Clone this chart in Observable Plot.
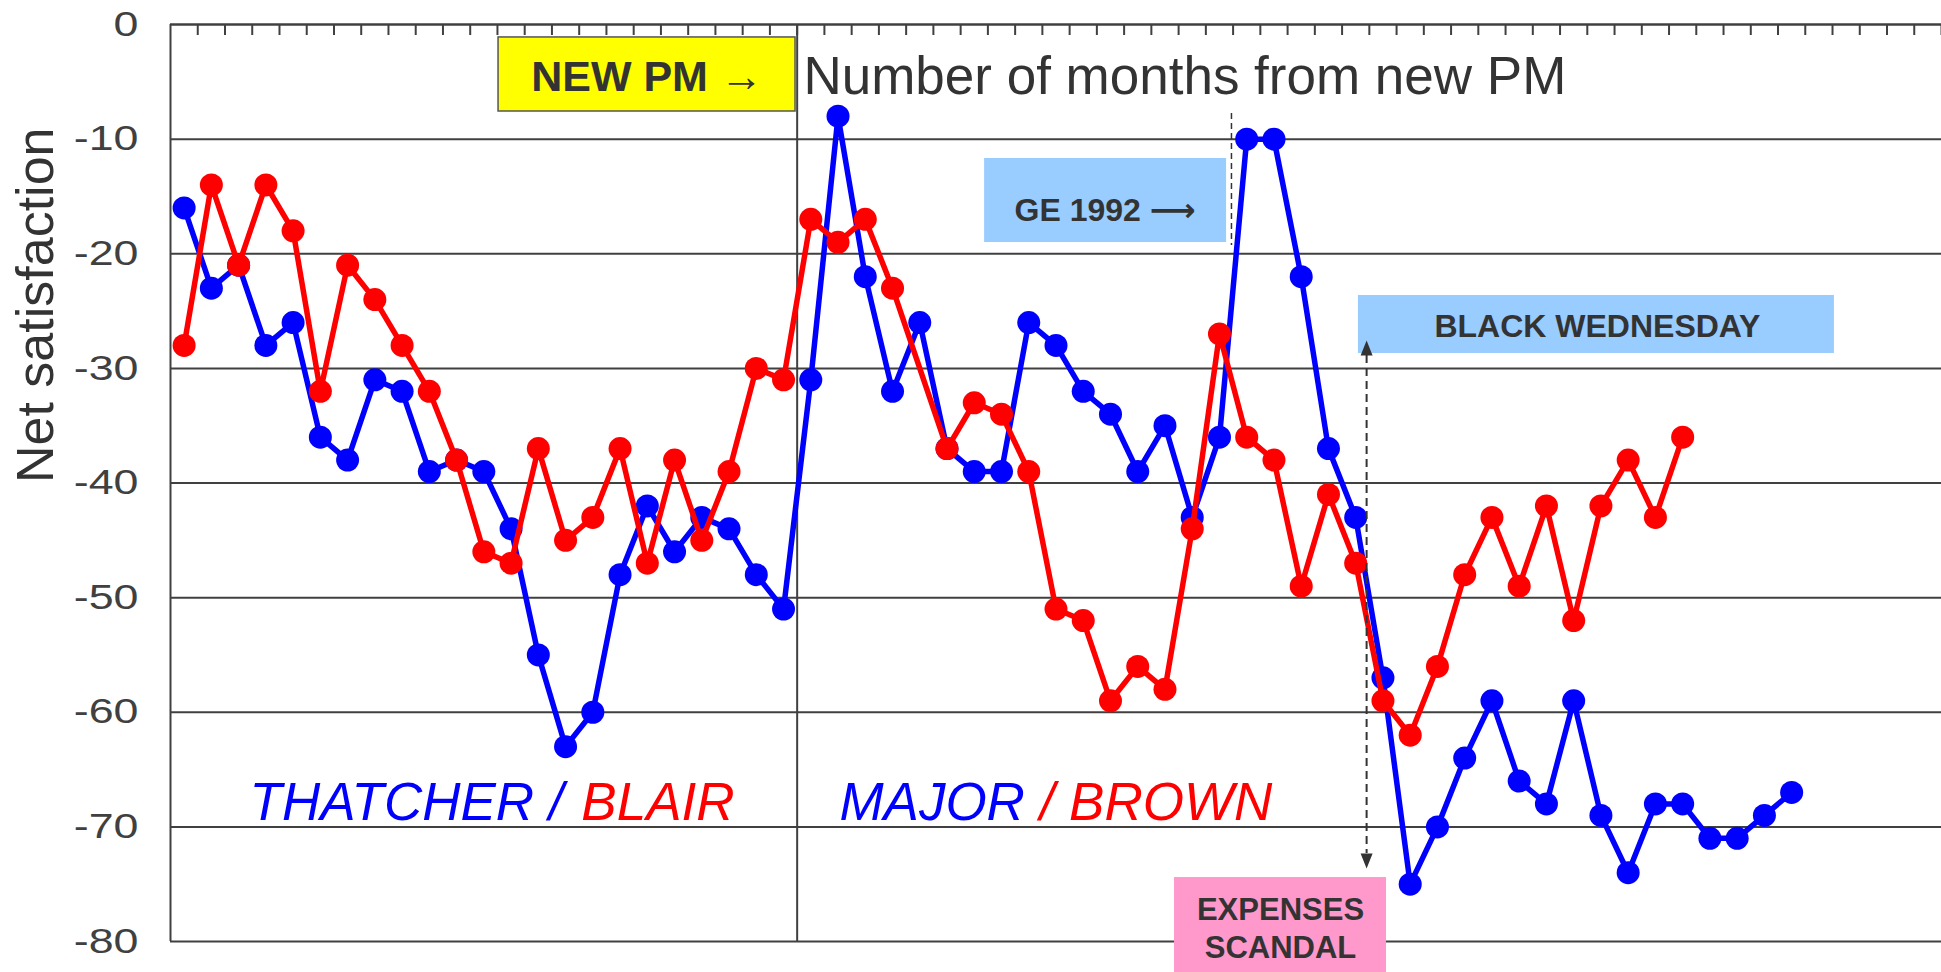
<!DOCTYPE html>
<html><head><meta charset="utf-8">
<script src="https://cdn.jsdelivr.net/npm/d3@7"></script>
<script src="https://cdn.jsdelivr.net/npm/@observablehq/plot@0.6"></script>
<style>html,body{margin:0;padding:0;background:#fff;overflow:hidden;}</style>
</head><body><div id="chart"></div>
<script>
// Category index 0..64 (23 = first month of the new PM)
const categoryCount = 65;
const newPmIndex = 23;

// Blue: Thatcher (0-22) then Major (23-59)
const blueValues = [
  -16, -23, -21, -28, -26, -36, -38, -31, -32, -39, -38, -39, -44, -55, -63, -60, -48, -42, -46, -43, -44, -48, -51,
  -31, -8, -22, -32, -26, -37, -39, -39, -26, -28, -32, -34, -39, -35, -43, -36, -10, -10, -22, -37, -43,
  -57, -75, -70, -64, -59, -66, -68, -59, -69, -74, -68, -68, -71, -71, -69, -67
];
// Red: Blair (0-22) then Brown (23-55); one month missing
const redValues = [
  -28, -14, -21, -14, -18, -32, -21, -24, -28, -32, -38, -46, -47, -37, -45, -43, -37, -47, -38, -45, -39, -30, -31,
  -17, -19, -17, -23, null, -37, -33, -34, -39, -51, -52, -59, -56, -58, -44, -27, -36, -38, -49, -41, -47,
  -59, -62, -56, -48, -43, -49, -42, -52, -42, -38, -43, -36
];
const yTicks = [0, -10, -20, -30, -40, -50, -60, -70, -80];
const gridValues = [-10, -20, -30, -40, -50, -60, -70, -80];
const boundaries = d3.range(1, categoryCount + 1).map(k => k - 0.5);

const blue = blueValues.map((v, i) => ({i, v}));
const red = redValues.map((v, i) => ({i, v})).filter(d => d.v != null);

const SANS = "Liberation Sans, Arial, Helvetica, sans-serif";
const INK = "#333333";
const LINE = "#404040";

const arrowUp = {draw(ctx) { ctx.moveTo(0, -15); ctx.lineTo(6, 0); ctx.lineTo(-6, 0); ctx.closePath(); }};
const arrowDown = {draw(ctx) { ctx.moveTo(0, 15); ctx.lineTo(6, 0); ctx.lineTo(-6, 0); ctx.closePath(); }};

const chart = Plot.plot({
  width: 1941,
  height: 972,
  marginLeft: 170,
  marginRight: 0,
  marginTop: 24,
  marginBottom: 31,
  style: {background: "white", fontFamily: SANS},
  x: {domain: [-0.5, categoryCount - 0.5], axis: null},
  y: {domain: [-80, 0], axis: null},
  marks: [
    Plot.ruleY(gridValues, {stroke: LINE, strokeWidth: 2}),
    Plot.ruleY([0], {stroke: LINE, strokeWidth: 2.5}),
    Plot.ruleX(boundaries, {y1: 0, y2: -0.96, stroke: LINE, strokeWidth: 2}),
    Plot.ruleX([-0.5], {y1: 0, y2: -80, stroke: LINE, strokeWidth: 2}),
    Plot.ruleX([newPmIndex - 0.5], {y1: 0, y2: -80, stroke: LINE, strokeWidth: 2}),
    Plot.axisY(yTicks, {
      tickSize: 0, tickPadding: 32, label: null,
      tickFormat: d => `${d}`,
      fontSize: 35, fontFamily: SANS, fill: LINE
    }),
    Plot.text(["Net satisfaction"], {
      frameAnchor: "left", dx: -134, rotate: -90,
      fontSize: 52, fill: INK, fontFamily: SANS
    }),
    // data
    Plot.line(blue, {x: "i", y: "v", stroke: "#0000ff", strokeWidth: 5.5}),
    Plot.dot(blue, {x: "i", y: "v", r: 11.5, fill: "#0000ff"}),
    Plot.line(red, {x: "i", y: "v", stroke: "#ff0000", strokeWidth: 5.5}),
    Plot.dot(red, {x: "i", y: "v", r: 11.5, fill: "#ff0000"}),
    // title
    Plot.text(["Number of months from new PM"], {
      x: 22.73, y: -4.62, textAnchor: "start", fontSize: 53, fill: INK
    }),
    // NEW PM box
    Plot.rect([0], {x1: 11.54, x2: 22.44, y1: -1.13, y2: -7.59, fill: "#ffff00", stroke: "#555555", strokeWidth: 1.5}),
    Plot.text(["NEW PM \u2192"], {x: 16.99, y: -4.64, fontSize: 43, fontWeight: "bold", fill: INK}),
    // GE 1992
    Plot.rect([0], {x1: 29.38, x2: 38.26, y1: -11.69, y2: -19.02, fill: "#99ccff"}),
    Plot.text(["GE 1992 \u27F6"], {x: 33.8, y: -16.21, fontSize: 32, fontWeight: "bold", fill: INK, fontFamily: "Liberation Sans, DejaVu Sans, sans-serif"}),
    Plot.ruleX([38.44], {y1: -7.76, y2: -19.28, stroke: INK, strokeWidth: 1.5, strokeDasharray: "6,4"}),
    // Black Wednesday
    Plot.rect([0], {x1: 43.10, x2: 60.57, y1: -23.64, y2: -28.70, fill: "#99ccff"}),
    Plot.text(["BLACK WEDNESDAY"], {x: 51.87, y: -26.33, fontSize: 32, fontWeight: "bold", fill: INK}),
    Plot.ruleX([43.4], {y1: -28.88, y2: -72.32, stroke: INK, strokeWidth: 2, strokeDasharray: "8,5"}),
    Plot.dot([0], {x: 43.4, y: -28.88, symbol: arrowUp, fill: INK, stroke: null}),
    Plot.dot([0], {x: 43.4, y: -72.32, symbol: arrowDown, fill: INK, stroke: null}),
    // Expenses scandal
    Plot.rect([0], {x1: 36.35, x2: 44.13, y1: -74.42, y2: -83, fill: "#ff99cc"}),
    Plot.text(["EXPENSES"], {x: 40.24, y: -77.3, fontSize: 31, fontWeight: "bold", fill: INK}),
    Plot.text(["SCANDAL"], {x: 40.24, y: -80.6, fontSize: 31, fontWeight: "bold", fill: INK}),
    // series labels
    Plot.text(["THATCHER /"], {x: 2.40, y: -67.96, textAnchor: "start", fontSize: 53, fontStyle: "italic", fill: "#0000ff"}),
    Plot.text(["BLAIR"], {x: 14.58, y: -67.96, textAnchor: "start", fontSize: 53, fontStyle: "italic", fill: "#ff0000"}),
    Plot.text(["MAJOR"], {x: 24.05, y: -67.96, textAnchor: "start", fontSize: 53, fontStyle: "italic", fill: "#0000ff"}),
    Plot.text(["/ BROWN"], {x: 31.40, y: -67.96, textAnchor: "start", fontSize: 53, fontStyle: "italic", fill: "#ff0000"})
  ]
});
// the reference's tick labels are set wide: stretch them horizontally about their right edge
d3.select(chart).selectAll('g[aria-label="y-axis tick label"] text').each(function() {
  const t = this.getAttribute("transform") || "";
  this.setAttribute("transform", t + " scale(1.28,1)");
});
document.getElementById("chart").appendChild(chart);
</script>
</body></html>
